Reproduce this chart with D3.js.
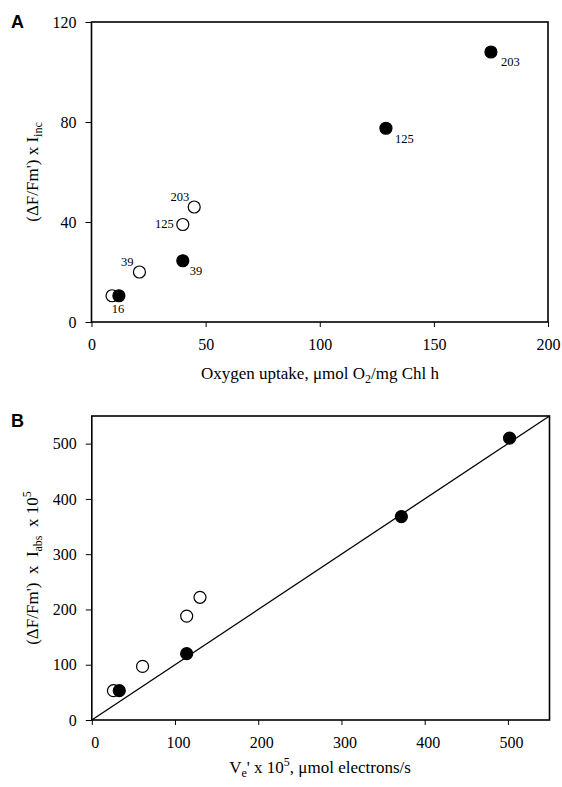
<!DOCTYPE html>
<html>
<head>
<meta charset="utf-8">
<script src="https://cdn.jsdelivr.net/npm/d3@7/dist/d3.min.js"></script>
<style>
  body { margin: 0; background: #fff; }
  svg { display: block; }
  .axis line { stroke: #000; }
</style>
</head>
<body>
<svg id="chart" width="562" height="787"></svg>
<script>
// ---- panel A: oxygen uptake vs (dF/Fm') x Iinc ----
var oxyFilledA = [12, 40, 129, 175];
var fluoFilledA = [10.5, 24.5, 77.5, 108];
var namesFilledA = ["16", "39", "125", "203"];
var oxyOpenA = [9, 21, 40, 45];
var fluoOpenA = [10.5, 20, 39, 46];
var namesOpenA = ["", "39", "125", "203"];
var xTicksA = [0, 50, 100, 150, 200];
var yTicksA = [0, 40, 80, 120];

// ---- panel B: Ve' x 10^5 vs (dF/Fm') x Iabs x 10^5 ----
var veFilledB = [33, 114, 372, 502];
var fluoFilledB = [53, 120, 368, 510];
var veOpenB = [26, 61, 114, 130];
var fluoOpenB = [53, 97, 188, 222];
var fitLineB = [0, 550];   // y = x
var xTicksB = [0, 100, 200, 300, 400, 500];
var yTicksB = [0, 100, 200, 300, 400, 500];

// label offsets for the numbers next to the points in A (style only)
var offFilledA = [[-1, 17, "middle"], [7, 14, "start"], [9, 15, "start"], [10, 14, "start"]];
var offOpenA = [[0, 0, "end"], [-6, -6, "end"], [-9, 3, "end"], [-5, -6, "end"]];

var svg = d3.select("#chart");
var serif = '"Liberation Serif", "Times New Roman", serif';

function zip(xs, ys) {
  return xs.map(function(x, i) { return {x: x, y: ys[i], i: i}; });
}

function panel(o) {
  var x = d3.scaleLinear().domain(o.xDomain).range([o.left, o.right]);
  var y = d3.scaleLinear().domain(o.yDomain).range([o.bottom, o.top]);
  var g = svg.append("g");

  var ax = g.append("g")
    .attr("class", "axis")
    .attr("transform", "translate(0," + o.bottom + ")")
    .call(d3.axisBottom(x).tickValues(o.xTicks).tickSize(5).tickPadding(12).tickSizeOuter(0))
    .attr("font-family", serif).attr("font-size", 16);
  ax.select(".domain").remove();
  ax.selectAll("text").attr("fill", "#000").attr("dx", o.xLabelShift);

  var ay = g.append("g")
    .attr("class", "axis")
    .attr("transform", "translate(" + o.left + ",0)")
    .call(d3.axisLeft(y).tickValues(o.yTicks).tickSize(6).tickPadding(9).tickSizeOuter(0))
    .attr("font-family", serif).attr("font-size", 16);
  ay.select(".domain").remove();
  ay.selectAll("text").attr("fill", "#000");

  // frame
  g.append("rect")
    .attr("x", o.left).attr("y", o.top)
    .attr("width", o.right - o.left).attr("height", o.bottom - o.top)
    .attr("fill", "none").attr("stroke", "#000").attr("stroke-width", 1.6);

  // panel letter
  g.append("text")
    .attr("x", 11).attr("y", o.letterY)
    .attr("font-family", '"Liberation Sans", Arial, sans-serif')
    .attr("font-weight", "bold").attr("font-size", 18)
    .text(o.letter);

  return {g: g, x: x, y: y};
}

function dots(p, pts, filled) {
  p.g.append("g").selectAll("circle")
    .data(pts).enter().append("circle")
    .attr("cx", function(d) { return p.x(d.x); })
    .attr("cy", function(d) { return p.y(d.y); })
    .attr("r", 6)
    .attr("fill", filled ? "#000" : "#fff")
    .attr("stroke", "#000").attr("stroke-width", 1.2);
}

function names(p, pts, txt, off) {
  p.g.append("g").selectAll("text")
    .data(pts).enter().append("text")
    .attr("x", function(d) { return p.x(d.x) + off[d.i][0]; })
    .attr("y", function(d) { return p.y(d.y) + off[d.i][1]; })
    .attr("text-anchor", function(d) { return off[d.i][2]; })
    .attr("font-family", serif).attr("font-size", 12.5)
    .attr("fill", "#000")
    .text(function(d) { return txt[d.i]; });
}

// ---------- A ----------
var pA = panel({
  letter: "A", letterY: 28, xDomain: [0, 200], yDomain: [0, 120],
  left: 91.5, right: 548, top: 22, bottom: 322,
  xTicks: xTicksA, yTicks: yTicksA, xLabelShift: 0
});
var openA = zip(oxyOpenA, fluoOpenA), filledA = zip(oxyFilledA, fluoFilledA);
dots(pA, openA, false);
dots(pA, filledA, true);
names(pA, openA, namesOpenA, offOpenA);
names(pA, filledA, namesFilledA, offFilledA);

var xlA = pA.g.append("text")
  .attr("x", 320).attr("y", 379)
  .attr("text-anchor", "middle")
  .attr("font-family", serif).attr("font-size", 17);
xlA.append("tspan").text("Oxygen uptake, \u03bcmol O");
xlA.append("tspan").attr("dy", 4).attr("font-size", 12).text("2");
xlA.append("tspan").attr("dy", -4).text("/mg Chl h");

var ylA = pA.g.append("text")
  .attr("transform", "translate(38,172) rotate(-90)")
  .attr("text-anchor", "middle")
  .attr("font-family", serif).attr("font-size", 17);
ylA.append("tspan").text("(\u0394F/Fm') x I");
ylA.append("tspan").attr("dy", 4).attr("font-size", 12).text("inc");

// ---------- B ----------
var pB = panel({
  letter: "B", letterY: 427, xDomain: [0, 550], yDomain: [0, 550],
  left: 91.8, right: 549.5, top: 416, bottom: 720,
  xTicks: xTicksB, yTicks: yTicksB, xLabelShift: 3
});

pB.g.append("line")
  .attr("x1", pB.x(fitLineB[0])).attr("y1", pB.y(fitLineB[0]))
  .attr("x2", pB.x(fitLineB[1])).attr("y2", pB.y(fitLineB[1]))
  .attr("stroke", "#000").attr("stroke-width", 1.3);

dots(pB, zip(veOpenB, fluoOpenB), false);
dots(pB, zip(veFilledB, fluoFilledB), true);

var xlB = pB.g.append("text")
  .attr("x", 320).attr("y", 773)
  .attr("text-anchor", "middle")
  .attr("font-family", serif).attr("font-size", 17);
xlB.append("tspan").text("V");
xlB.append("tspan").attr("dy", 4).attr("font-size", 12).text("e");
xlB.append("tspan").attr("dy", -4).text("' x 10");
xlB.append("tspan").attr("dy", -7).attr("font-size", 12).text("5");
xlB.append("tspan").attr("dy", 7).text(", \u03bcmol electrons/s");

var ylB = pB.g.append("text")
  .attr("transform", "translate(38,568) rotate(-90)")
  .attr("text-anchor", "middle")
  .attr("font-family", serif).attr("font-size", 17)
  .style("white-space", "pre");
ylB.append("tspan").text("(\u0394F/Fm')  x  I");
ylB.append("tspan").attr("dy", 4).attr("font-size", 12).text("abs");
ylB.append("tspan").attr("dy", -4).text("  x 10");
ylB.append("tspan").attr("dy", -7).attr("font-size", 12).text("5");
</script>
</body>
</html>
